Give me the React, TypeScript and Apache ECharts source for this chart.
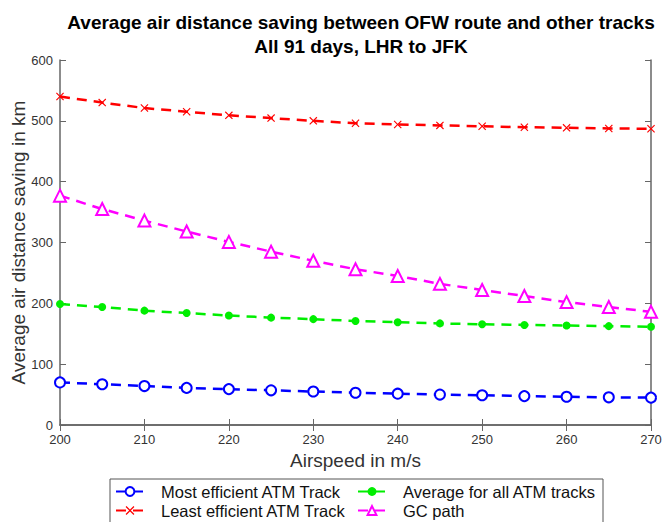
import React, { useEffect, useRef } from "react";
import * as echarts from "echarts";

const airspeed = [200, 205, 210, 215, 220, 225, 230, 235, 240, 245, 250, 255, 260, 265, 270];
const mostEfficient = [70, 67, 64, 61, 59, 57, 55, 53, 51.5, 50, 49, 47.5, 46.5, 45.5, 45];
const leastEfficient = [540, 530, 521, 515, 509, 504.5, 500, 496, 494, 492.5, 491, 489.5, 488.5, 487.5, 487];
const averageAll = [199, 194, 188, 184, 180, 176.5, 174, 171, 169, 167, 165.5, 164.5, 163.5, 162.5, 161.5];
const gcPath = [377, 355, 336, 318, 301, 285, 270, 256, 245, 232, 222, 212, 202, 194, 186];

const seriesNames = [
  "Most efficient ATM Track",
  "Least efficient ATM Track",
  "Average for all ATM tracks",
  "GC path",
];

const titleLines = ["Average air distance saving between OFW route and other tracks", "All 91 days, LHR to JFK"];
const xName = "Airspeed in m/s";
const yName = "Average air distance saving in km";

const X_SYMBOL = "path://M1,0 L5,4 L9,0 L10,1 L6,5 L10,9 L9,10 L5,6 L1,10 L0,9 L4,5 L0,1 Z";

const pairs = (ys: number[]) => airspeed.map((x, i) => [x, ys[i]]);

export default function App() {
  const ref = useRef<HTMLDivElement>(null);
  useEffect(() => {
    if (!ref.current) return;
    const chart = echarts.init(ref.current, null, { renderer: "svg" });
    const font = "Liberation Sans, Arial, Helvetica, sans-serif";
    const axisColor = "#666";
    const lineBase = (color: string) => ({ color, width: 2.5, type: [10, 7] as number[] });
    const legendPos = [
      { left: 115, top: 483 },
      { left: 115, top: 502 },
      { left: 357, top: 483 },
      { left: 357, top: 502 },
    ];
    chart.setOption({
      animation: false,
      backgroundColor: "#fff",
      textStyle: { fontFamily: font },
      title: {
        text: titleLines.join("\n"),
        left: 356,
        textAlign: "center",
        top: 5,
        textStyle: { fontSize: 19, fontWeight: "bold", color: "#000", lineHeight: 24, fontFamily: font },
      },
      graphic: [
        {
          type: "rect",
          shape: { x: 110, y: 479, width: 493, height: 60 },
          style: { fill: "#fff", stroke: "#555", lineWidth: 1 },
          z: 0,
        },
      ],
      legend: seriesNames.map((name, i) => ({
        data: [name],
        orient: "horizontal",
        left: legendPos[i].left,
        top: legendPos[i].top,
        itemWidth: 28,
        itemHeight: 11,
        padding: 0,
        textStyle: { fontSize: 16.5, color: "#111", padding: [0, 0, 0, 12], fontFamily: font },
        z: 5,
      })),
      grid: { left: 60, right: 12, top: 60, bottom: 97, containLabel: false, outerBoundsMode: "none" },
      xAxis: [
        {
          type: "value",
          min: 200,
          max: 270,
          interval: 10,
          name: xName,
          nameLocation: "middle",
          nameGap: 26,
          nameTextStyle: { fontSize: 19, color: "#333", fontFamily: font },
          axisLine: { show: true, lineStyle: { color: axisColor, width: 1.5 } },
          axisTick: { show: true, inside: true, length: 6, lineStyle: { color: axisColor } },
          axisLabel: { fontSize: 13, color: "#333", margin: 8 },
          splitLine: { show: false },
        },
        {
          type: "value",
          position: "top",
          min: 200,
          max: 270,
          interval: 10,
          axisLine: { show: true, lineStyle: { color: axisColor, width: 1.5 } },
          axisTick: { show: true, inside: true, length: 6, lineStyle: { color: axisColor } },
          axisLabel: { show: false },
          splitLine: { show: false },
        },
      ],
      yAxis: [
        {
          type: "value",
          min: 0,
          max: 600,
          interval: 100,
          name: yName,
          nameLocation: "middle",
          nameGap: 32,
          nameMoveOverlap: false,
          nameTextStyle: { fontSize: 19, color: "#333", fontFamily: font },
          axisLine: { show: true, lineStyle: { color: axisColor, width: 1.5 } },
          axisTick: { show: true, inside: true, length: 6, lineStyle: { color: axisColor } },
          axisLabel: { fontSize: 13, color: "#333", margin: 7 },
          splitLine: { show: false },
        },
        {
          type: "value",
          position: "right",
          min: 0,
          max: 600,
          interval: 100,
          axisLine: { show: true, lineStyle: { color: axisColor, width: 1.5 } },
          axisTick: { show: true, inside: true, length: 6, lineStyle: { color: axisColor } },
          axisLabel: { show: false },
          splitLine: { show: false },
        },
      ],
      series: [
        {
          name: seriesNames[0],
          type: "line",
          data: pairs(mostEfficient),
          symbol: "emptyCircle",
          symbolSize: 10,
          lineStyle: lineBase("#0000ff"),
          itemStyle: { color: "#0000ff", borderColor: "#0000ff", borderWidth: 2 },
          z: 3,
        },
        {
          name: seriesNames[1],
          type: "line",
          data: pairs(leastEfficient),
          symbol: X_SYMBOL,
          symbolSize: 8,
          lineStyle: lineBase("#ff0000"),
          itemStyle: { color: "#ff0000" },
          z: 3,
        },
        {
          name: seriesNames[2],
          type: "line",
          data: pairs(averageAll),
          symbol: "circle",
          symbolSize: 8,
          lineStyle: lineBase("#00ee00"),
          itemStyle: { color: "#00ee00" },
          z: 3,
        },
        {
          name: seriesNames[3],
          type: "line",
          data: pairs(gcPath),
          symbol: "emptyTriangle",
          symbolSize: 12,
          lineStyle: lineBase("#ff00ff"),
          itemStyle: { color: "#ff00ff", borderColor: "#ff00ff", borderWidth: 2 },
          z: 3,
        },
      ],
    });
    return () => chart.dispose();
  }, []);
  return (
    <div
      ref={ref}
      style={{ position: "fixed", left: 0, top: 0, width: 663, height: 522, background: "#fff" }}
    />
  );
}
